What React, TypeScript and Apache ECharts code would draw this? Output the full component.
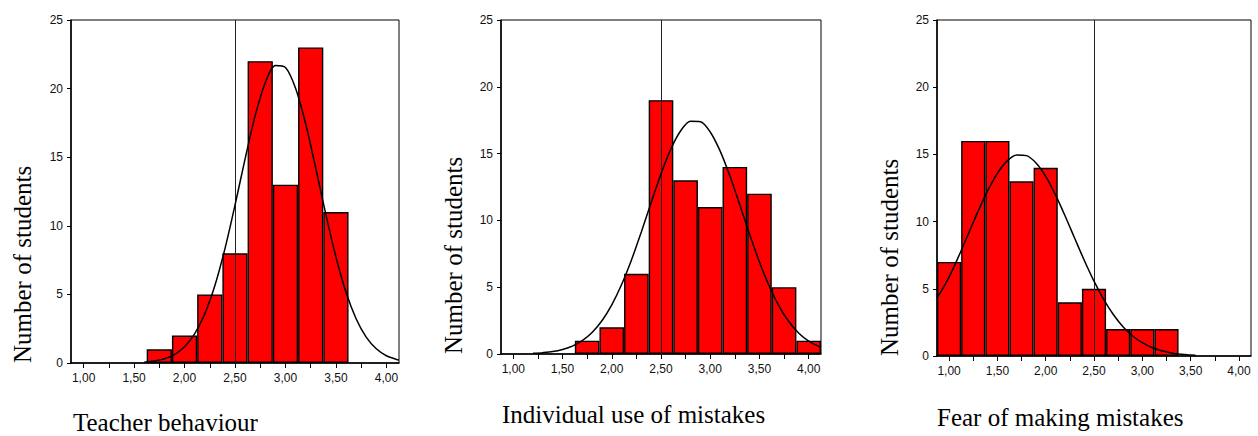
import React, { useEffect, useRef } from "react";
import * as echarts from "echarts";

const bins = ["1,00", "1,25", "1,50", "1,75", "2,00", "2,25", "2,50", "2,75", "3,00", "3,25", "3,50", "3,75", "4,00"];

const teacherCounts = ["-", "-", "-", 1, 2, 5, 8, 22, 13, 23, 11, "-", "-"];
const individualCounts = ["-", "-", "-", 1, 2, 6, 19, 13, 11, 14, 12, 5, 1];
const fearCounts = [7, 16, 16, 13, 14, 4, 5, 2, 2, 2, "-", "-", "-"];

const teacherCurveX = [1.6, 1.7, 1.8, 1.9, 2.0, 2.1, 2.2, 2.3, 2.4, 2.5, 2.6, 2.7, 2.8, 2.9, 3.0, 3.1, 3.2, 3.3, 3.4, 3.5, 3.6, 3.7, 3.8, 3.9, 4.0, 4.1, 4.125];
const teacherCurveY = [0.06, 0.14, 0.3, 0.61, 1.18, 2.12, 3.57, 5.63, 8.32, 11.5, 14.88, 18.03, 20.43, 21.68, 21.54, 20.03, 17.44, 14.21, 10.83, 7.73, 5.16, 3.23, 1.89, 1.04, 0.53, 0.26, 0.21];

const individualCurveX = [1.2, 1.3, 1.4, 1.5, 1.6, 1.7, 1.8, 1.9, 2.0, 2.1, 2.2, 2.3, 2.4, 2.5, 2.6, 2.7, 2.8, 2.9, 3.0, 3.1, 3.2, 3.3, 3.4, 3.5, 3.6, 3.7, 3.8, 3.9, 4.0, 4.1, 4.125];
const individualCurveY = [0.05, 0.1, 0.18, 0.34, 0.59, 1.0, 1.61, 2.49, 3.68, 5.2, 7.04, 9.13, 11.34, 13.48, 15.34, 16.71, 17.42, 17.39, 16.62, 15.2, 13.32, 11.17, 8.96, 6.88, 5.07, 3.57, 2.41, 1.55, 0.96, 0.57, 0.5];

const fearCurveX = [0.875, 0.9, 1.0, 1.1, 1.2, 1.3, 1.4, 1.5, 1.6, 1.7, 1.8, 1.9, 2.0, 2.1, 2.2, 2.3, 2.4, 2.5, 2.6, 2.7, 2.8, 2.9, 3.0, 3.1, 3.2, 3.3, 3.4, 3.5, 3.55];
const fearCurveY = [4.4, 4.6, 5.87, 7.43, 9.1, 10.76, 12.3, 13.59, 14.5, 14.96, 14.91, 14.36, 13.36, 12.01, 10.44, 8.76, 7.11, 5.57, 4.22, 3.09, 2.18, 1.49, 0.99, 0.63, 0.39, 0.23, 0.13, 0.07, 0.05];

const cutPoint = 2.5;
const xTitles = ["Teacher behaviour", "Individual use of mistakes", "Fear of making mistakes"];
const yTitle = "Number of students";

const panels = [
  { counts: teacherCounts, cx: teacherCurveX, cy: teacherCurveY, grid: { left: 71, top: 20, width: 328, height: 343 }, titleX: 73, titleY: 422, yTitleX: 22.6 },
  { counts: individualCounts, cx: individualCurveX, cy: individualCurveY, grid: { left: 501, top: 20, width: 320, height: 334 }, titleX: 502, titleY: 414.6, yTitleX: 453.6 },
  { counts: fearCounts, cx: fearCurveX, cy: fearCurveY, grid: { left: 937, top: 20, width: 314, height: 336 }, titleX: 937, titleY: 417.6, yTitleX: 889.6 },
];

export default function App() {
  const ref = useRef<HTMLDivElement>(null);
  useEffect(() => {
    document.body.style.margin = "0";
    const chart = echarts.init(ref.current!, undefined, { renderer: "svg" });
    const grids: any[] = [];
    const xAxes: any[] = [];
    const yAxes: any[] = [];
    const series: any[] = [];
    const graphics: any[] = [];
    panels.forEach((p, i) => {
      grids.push({ ...p.grid, show: true, borderColor: "#000", borderWidth: 1, backgroundColor: "transparent" });
      xAxes.push({
        type: "category",
        gridIndex: i,
        data: bins,
        boundaryGap: true,
        axisLine: { show: true, lineStyle: { color: "#000", width: 1.5 } },
        axisTick: { show: true, alignWithLabel: true, interval: 0, length: 5, lineStyle: { color: "#000", width: 1 } },
        axisLabel: { interval: 1, margin: 9, fontSize: 12, color: "#111", fontFamily: "Liberation Sans" },
        splitLine: { show: false },
      });
      xAxes.push({ type: "value", gridIndex: i, min: 0.875, max: 4.125, show: false, splitLine: { show: false } });
      yAxes.push({
        type: "value",
        gridIndex: i,
        min: 0,
        max: 25,
        interval: 5,
        axisLine: { show: true, lineStyle: { color: "#000", width: 1.5 } },
        axisTick: { show: true, length: 4, lineStyle: { color: "#000", width: 1 } },
        axisLabel: { margin: 8, fontSize: 12, color: "#111", fontFamily: "Liberation Sans" },
        splitLine: { show: false },
      });
      series.push({
        type: "bar",
        xAxisIndex: i * 2,
        yAxisIndex: i,
        data: p.counts,
        barCategoryGap: "0%",
        itemStyle: { color: "#ff0000", borderColor: "#000", borderWidth: 1.4 },
        z: 2,
      });
      series.push({
        type: "line",
        xAxisIndex: i * 2 + 1,
        yAxisIndex: i,
        data: p.cx.map((x, k) => [x, p.cy[k]]),
        smooth: 0.3,
        symbol: "none",
        lineStyle: { color: "#000", width: 1.5 },
        z: 4,
        markLine: {
          silent: true,
          symbol: ["none", "none"],
          label: { show: false },
          lineStyle: { color: "#222", width: 1, type: "solid" },
          data: [{ xAxis: cutPoint }],
          z: 3,
        },
      });
      graphics.push({
        type: "text",
        x: p.titleX,
        y: p.titleY,
        style: { text: xTitles[i], font: '25px "Liberation Serif"', lineHeight: 18, fill: "#000", align: "left", verticalAlign: "middle" },
      });
      graphics.push({
        type: "text",
        x: p.yTitleX,
        y: p.grid.top + p.grid.height,
        rotation: Math.PI / 2,
        style: { text: yTitle, font: '25px "Liberation Serif"', lineHeight: 18, fill: "#000", align: "left", verticalAlign: "middle" },
      });
    });
    chart.setOption({
      animation: false,
      backgroundColor: "#fff",
      grid: grids,
      xAxis: xAxes,
      yAxis: yAxes,
      series,
      graphic: graphics,
    });
    return () => chart.dispose();
  }, []);
  return <div ref={ref} style={{ width: 1258, height: 436 }} />;
}
